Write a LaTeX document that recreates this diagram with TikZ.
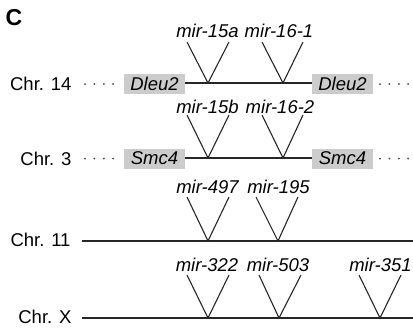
\documentclass[tikz,border=0pt]{standalone}
\usepackage{fontspec}
\setmainfont{Liberation Sans}
\begin{document}
\begin{tikzpicture}[x=1pt,y=-1pt,
  every node/.style={inner sep=0pt,outer sep=0pt,font=\fontsize{18.5}{20}\selectfont},
  chr/.style={anchor=base east},
  gene/.style={fill=black!20,minimum width=61pt,minimum height=20pt,font=\fontsize{18.5}{20}\selectfont\itshape},
  mir/.style={anchor=base,font=\fontsize{18.5}{20}\selectfont\itshape},
  chrline/.style={line width=1.1pt,black!85},
  vee/.style={line width=1.1pt,black!85,line join=miter},
  dots/.style={line width=2pt,black!75,line cap=round,dash pattern=on 0pt off 9.4pt}]
\useasboundingbox (0,0) rectangle (413,333);
\node[anchor=base west,font=\fontsize{23}{25}\selectfont\bfseries] (C) at (5.5,25) {C};
% Chr 14
\node[chr] (c14) at (71.5,90.7) {Chr. 14};
\node[gene] (d1) at (154.5,84) {Dleu2};
\node[gene] (d2) at (342.5,84) {Dleu2};
\coordinate (d1a) at (85,84); \coordinate (d1b) at (113.5,84);
\coordinate (d2a) at (380,84); \coordinate (d2b) at (408.5,84);
\draw[dots] (d1a) -- (d1b);
\draw[dots] (d2a) -- (d2b);
\draw[chrline] (d1.east |- 0,83) coordinate (l14a) -- (d2.west |- 0,83) coordinate (l14b);
\node[mir] (m15a) at (207.5,37.5) {mir-15a};
\node[mir] (m161) at (279,37.5) {mir-16-1};
\coordinate (a1) at (187,42); \coordinate (a2) at (208,83); \coordinate (a3) at (229,42);
\coordinate (b1) at (262,42); \coordinate (b2) at (283,83); \coordinate (b3) at (303,42);
\draw[vee] (a1) -- (a2) -- (a3);
\draw[vee] (b1) -- (b2) -- (b3);
% Chr 3
\node[chr] (c3) at (71.5,165) {Chr. 3};
\node[gene] (s1) at (154.5,158.5) {Smc4};
\node[gene] (s2) at (342.5,158.5) {Smc4};
\coordinate (s1a) at (85,158.5); \coordinate (s1b) at (113.5,158.5);
\coordinate (s2a) at (380,158.5); \coordinate (s2b) at (408.5,158.5);
\draw[dots] (s1a) -- (s1b);
\draw[dots] (s2a) -- (s2b);
\draw[chrline] (s1.east |- 0,158) coordinate (l3a) -- (s2.west |- 0,158) coordinate (l3b);
\node[mir] (m15b) at (207.5,113) {mir-15b};
\node[mir] (m162) at (280,113) {mir-16-2};
\coordinate (e1) at (187,115); \coordinate (e2) at (208,158); \coordinate (e3) at (229,115);
\coordinate (f1) at (262,115); \coordinate (f2) at (283,158); \coordinate (f3) at (303,115);
\draw[vee] (e1) -- (e2) -- (e3);
\draw[vee] (f1) -- (f2) -- (f3);
% Chr 11
\node[chr] (c11) at (70.5,246.7) {Chr. 11};
\coordinate (l11a) at (82,241); \coordinate (l11b) at (413,241);
\draw[chrline] (l11a) -- (l11b);
\node[mir] (m497) at (207.5,193) {mir-497};
\node[mir] (m195) at (278.5,193) {mir-195};
\coordinate (g1) at (187,197); \coordinate (g2) at (208,241); \coordinate (g3) at (229,197);
\coordinate (h1) at (256,197); \coordinate (h2) at (278,241); \coordinate (h3) at (298,197);
\draw[vee] (g1) -- (g2) -- (g3);
\draw[vee] (h1) -- (h2) -- (h3);
% Chr X
\node[chr] (cx) at (71.5,323) {Chr. X};
\coordinate (lxa) at (82,318); \coordinate (lxb) at (413,318);
\draw[chrline] (lxa) -- (lxb);
\node[mir] (m322) at (207,271.7) {mir-322};
\node[mir] (m503) at (278,271.7) {mir-503};
\node[mir] (m351) at (380.5,271.7) {mir-351};
\coordinate (i1) at (187,275); \coordinate (i2) at (208,318); \coordinate (i3) at (229,275);
\coordinate (j1) at (259,275); \coordinate (j2) at (279,318); \coordinate (j3) at (301,275);
\coordinate (k1) at (359,275); \coordinate (k2) at (380,318); \coordinate (k3) at (401,275);
\draw[vee] (i1) -- (i2) -- (i3);
\draw[vee] (j1) -- (j2) -- (j3);
\draw[vee] (k1) -- (k2) -- (k3);
\end{tikzpicture}
\end{document}
